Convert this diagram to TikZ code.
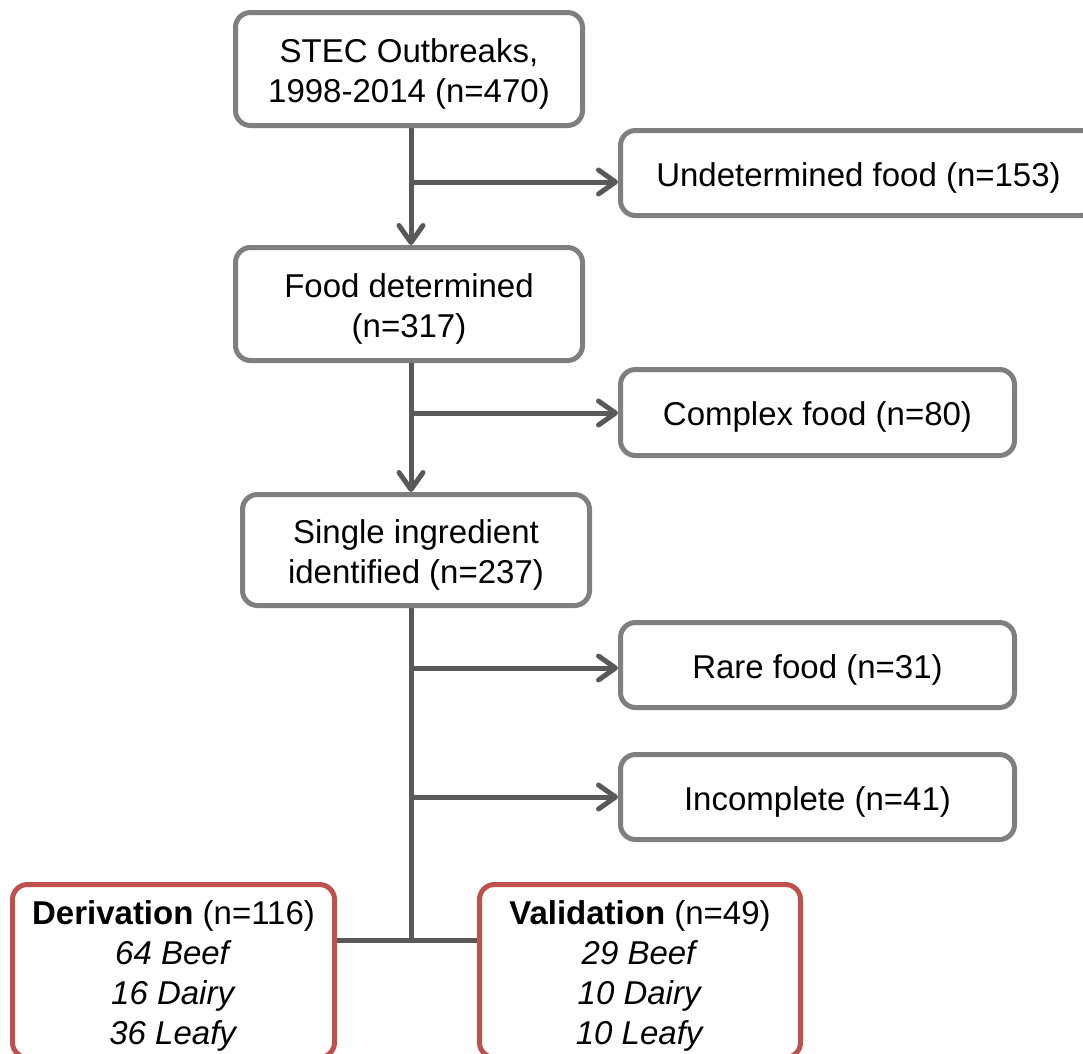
\documentclass[tikz,border=0pt]{standalone}
\usepackage{fontspec}
\setmainfont{Liberation Sans}
\usetikzlibrary{arrows.meta}
\definecolor{boxgray}{HTML}{7F7F7F}
\definecolor{linegray}{HTML}{595959}
\definecolor{boxred}{HTML}{C0504D}
\newcommand\dn[1]{\raisebox{-4.5pt}[\height][\depth]{#1}}
\begin{document}
\begin{tikzpicture}[x=1pt,y=-1pt,
  box/.style={draw=boxgray, line width=5pt, rounded corners=15pt, fill=white, align=center,
    font=\fontsize{33}{40}\selectfont, inner sep=0pt},
  redbox/.style={box, draw=boxred},
  conn/.style={draw=linegray, line width=5pt},
  arr/.style={conn, -{Straight Barb[length=17pt,width=24pt,round]}}]
\useasboundingbox (0,0) rectangle (1083,1053);
\node[box, minimum width=347pt, minimum height=113pt] (stec) at (409,69) {\dn{STEC Outbreaks,}\\\dn{1998-2014 (n=470)}};
\node[box, minimum width=476pt, minimum height=85pt] (undet) at (858.5,173) {\dn{Undetermined food (n=153)}};
\node[box, minimum width=347pt, minimum height=113pt] (food) at (409,304) {\dn{Food determined}\\\dn{(n=317)}};
\node[box, minimum width=394pt, minimum height=86pt] (complex) at (817.5,412.5) {\dn{Complex food (n=80)}};
\node[box, minimum width=347pt, minimum height=111pt] (single) at (416,550) {\dn{Single ingredient}\\\dn{identified (n=237)}};
\node[box, minimum width=394pt, minimum height=85pt] (rare) at (817.5,665) {\dn{Rare food (n=31)}};
\node[box, minimum width=394pt, minimum height=85pt] (incomp) at (817.5,797) {\dn{Incomplete (n=41)}};
\node[redbox, minimum width=322pt, minimum height=173pt] (deriv) at (173.5,971)
  {\dn{\textbf{Derivation} (n=116)}\\\dn{\textit{64 Beef}}\\\dn{\textit{16 Dairy}}\\\dn{\textit{36 Leafy}}};
\node[redbox, minimum width=321pt, minimum height=173pt] (valid) at (640,971)
  {\dn{\textbf{Validation} (n=49)}\\\dn{\textit{29 Beef}}\\\dn{\textit{10 Dairy}}\\\dn{\textit{10 Leafy}}};
\coordinate (spine) at (411,0);
\coordinate (j1) at (411,182);
\coordinate (j2) at (411,413);
\coordinate (j3) at (411,668);
\coordinate (j4) at (411,797);
\coordinate (j5) at (411,940);
\draw[arr] (stec.south -| spine) -- (food.north -| spine);
\draw[arr] (food.south -| spine) -- (single.north -| spine);
\draw[conn] (single.south -| spine) -- (j5);
\draw[arr] (j1) -- (j1 -| undet.west);
\draw[arr] (j2) -- (j2 -| complex.west);
\draw[arr] (j3) -- (j3 -| rare.west);
\draw[arr] (j4) -- (j4 -| incomp.west);
\draw[conn] (deriv.east |- j5) -- (valid.west |- j5);
\end{tikzpicture}
\end{document}
